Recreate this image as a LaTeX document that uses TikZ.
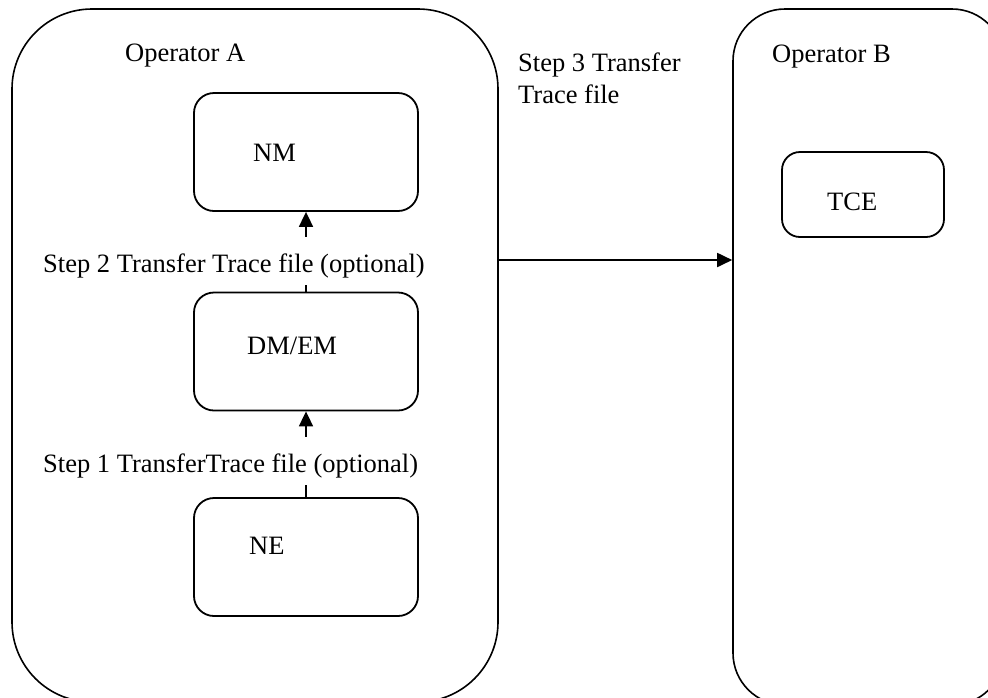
\documentclass[tikz,border=0pt]{standalone}
\usepackage{fontspec}
\setmainfont{Liberation Serif}
\usetikzlibrary{arrows.meta}
\begin{document}
\begin{tikzpicture}[x=1pt,y=-1pt,
  opbox/.style={draw, line width=1.6pt, inner sep=0pt},
  inbox/.style={draw, line width=1.8pt, rounded corners=20pt, minimum width=224pt, minimum height=118pt, inner sep=0pt},
  lbl/.style={font=\fontsize{26.5}{32}\selectfont, inner sep=0pt, anchor=base west},
  steplbl/.style={lbl, fill=white, text height=35pt, text depth=13pt},
  flow/.style={line width=1.8pt, -{Triangle[length=15pt,width=14pt]}}]
\useasboundingbox (0,0) rectangle (988,697);
\begin{scope}
  \clip (0,0) rectangle (988,697);
  \node[opbox, rounded corners=80pt, minimum width=486pt, minimum height=693pt] (opA) at (255,355.5) {};
  \node[opbox, rounded corners=52pt, minimum width=271pt, minimum height=696pt] (opB) at (868.5,357) {};
\end{scope}
\node[inbox] (nm) at (306,152) {};
\node[inbox] (dm) at (306,351.5) {};
\node[inbox] (ne) at (306,557) {};
\node[draw, line width=1.8pt, rounded corners=18pt, minimum width=162pt, minimum height=85pt, inner sep=0pt] (tce) at (863,194.5) {};
\node[lbl] (tA) at (125,61) {Operator A};
\node[lbl] (tB) at (772,62) {Operator B};
\node[lbl] (tnm) at (253,161) {NM};
\node[lbl] (tdm) at (247,354) {DM/EM};
\node[lbl] (tne) at (249,554) {NE};
\node[lbl] (ttce) at (827,210) {TCE};
\draw[flow] (ne.north) -- (dm.south);
\draw[flow] (dm.north) -- (nm.south);
\node[steplbl] (s1) at (43,472) {Step 1 TransferTrace file (optional)};
\node[steplbl] (s2) at (43,272) {Step 2 Transfer Trace file (optional)};
\draw[flow] (opA.east |- 0,260) -- (opB.west |- 0,260);
\node[lbl] (s3a) at (518,71) {Step 3 Transfer};
\node[lbl] (s3b) at (518,103) {Trace file};
\end{tikzpicture}
\end{document}
